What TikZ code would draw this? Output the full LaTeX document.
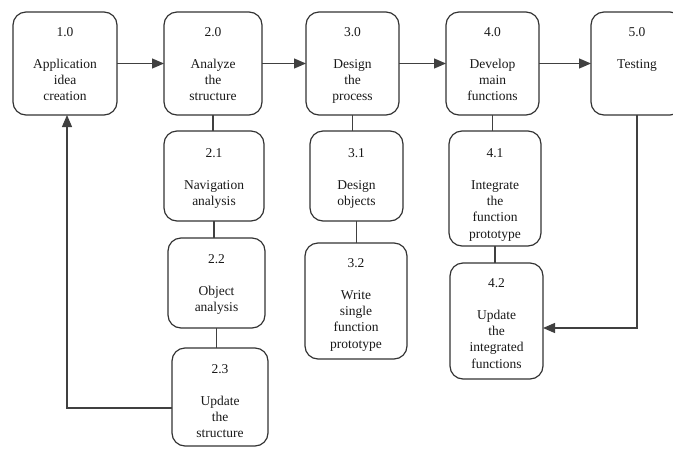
\documentclass[tikz,border=0pt]{standalone}
\usepackage{fontspec}
\setmainfont{Liberation Serif}
\usetikzlibrary{arrows.meta,positioning,calc}

\tikzset{
  box/.style={draw=black!80, line width=1.2pt, rounded corners=13pt,
    inner sep=0pt, outer sep=0pt},
  lbl/.style={inner sep=0pt, align=center, text=black!90,
    font=\fontsize{13.5}{16.2}\selectfont},
  link/.style={draw=black!75, line width=1.2pt},
  flow/.style={link, -{Triangle[length=12pt,width=10pt]}}
}

\begin{document}
\begin{tikzpicture}[x=1pt,y=-1pt]
\useasboundingbox (0,0) rectangle (673,448);
\clip (0,0) rectangle (673,448);

% main process row
\node[box, minimum width=104pt, minimum height=103pt] (b10) at (65,63.5) {};
\node[box, minimum width=98pt,  minimum height=103pt] (b20) at (213,63.5) {};
\node[box, minimum width=93pt,  minimum height=103pt] (b30) at (352.5,63.5) {};
\node[box, minimum width=93pt,  minimum height=103pt] (b40) at (492.5,63.5) {};
\node[box, minimum width=92pt,  minimum height=103pt] (b50) at (637,63.5) {};

% sub-processes
\node[box, minimum width=100pt, minimum height=90pt]  (b21) at (214,176) {};
\node[box, minimum width=97pt,  minimum height=90pt]  (b22) at (216.5,283) {};
\node[box, minimum width=96pt,  minimum height=98pt]  (b23) at (220,397) {};
\node[box, minimum width=93pt,  minimum height=90pt]  (b31) at (356.5,176) {};
\node[box, minimum width=102pt, minimum height=116pt] (b32) at (356,301) {};
\node[box, minimum width=92pt,  minimum height=115pt] (b41) at (495,188.5) {};
\node[box, minimum width=93pt,  minimum height=116pt] (b42) at (496.5,321) {};

% labels
\node[lbl, below=15pt of b10.north] (t10) {1.0\\[16.2pt]Application\\idea\\creation};
\node[lbl, below=15pt of b20.north] (t20) {2.0\\[16.2pt]Analyze\\the\\structure};
\node[lbl, below=15pt of b30.north] (t30) {3.0\\[16.2pt]Design\\the\\process};
\node[lbl, below=15pt of b40.north] (t40) {4.0\\[16.2pt]Develop\\main\\functions};
\node[lbl, below=15pt of b50.north] (t50) {5.0\\[16.2pt]Testing};
\node[lbl, below=17pt of b21.north] (t21) {2.1\\[16.2pt]Navigation\\analysis};
\node[lbl, below=16pt of b22.north] (t22) {2.2\\[16.2pt]Object\\analysis};
\node[lbl, below=16pt of b23.north] (t23) {2.3\\[16.2pt]Update\\the\\structure};
\node[lbl, below=17pt of b31.north] (t31) {3.1\\[16.2pt]Design\\objects};
\node[lbl, below=15pt of b32.north] (t32) {3.2\\[16.2pt]Write\\single\\function\\prototype};
\node[lbl, below=17pt of b41.north] (t41) {4.1\\[16.2pt]Integrate\\the\\function\\prototype};
\node[lbl, below=15pt of b42.north] (t42) {4.2\\[16.2pt]Update\\the\\integrated\\functions};

% flow along the main row
\draw[flow] (b10.east) -- (b20.west);
\draw[flow] (b20.east) -- (b30.west);
\draw[flow] (b30.east) -- (b40.west);
\draw[flow] (b40.east) -- (b50.west);

% decomposition links
\draw[link] (b20.south) -- (b20.south |- b21.north);
\draw[link] (b21.south) -- (b21.south |- b22.north);
\draw[link] (b22.south) -- (b22.south |- b23.north);
\draw[link] (b30.south) -- (b30.south |- b31.north);
\draw[link] (b31.south) -- (b31.south |- b32.north);
\draw[link] (b40.south) -- (b40.south |- b41.north);
\draw[link] (b41.south) -- (b41.south |- b42.north);

% feedback loops
\coordinate (loopA) at ($(b23.west)+(0,11)$);
\draw[flow] (loopA) -| ($(b10.south)+(2,0)$);
\coordinate (loopB) at ($(b42.east)+(0,7)$);
\draw[flow] (b50.south) |- (loopB);
\end{tikzpicture}
\end{document}
